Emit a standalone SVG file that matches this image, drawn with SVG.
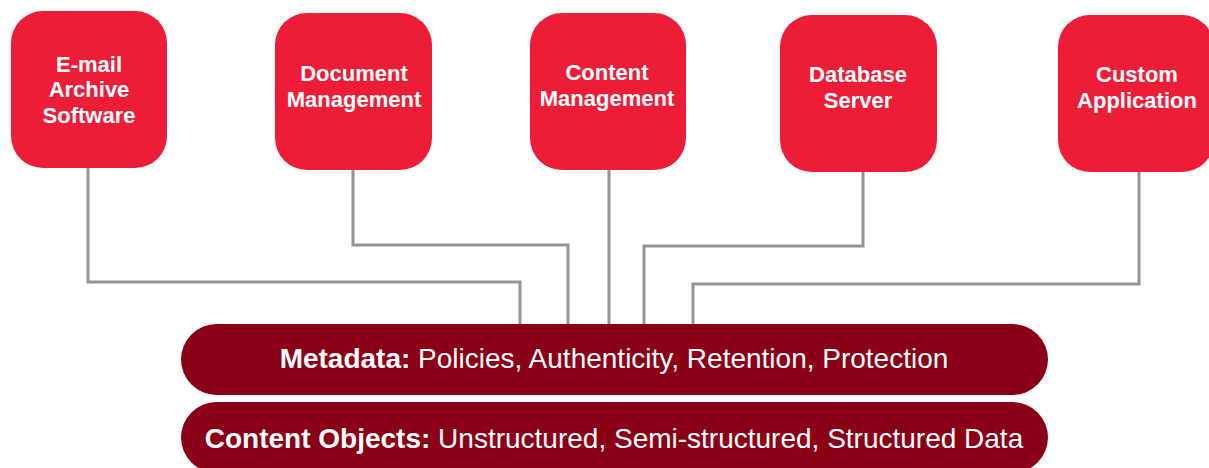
<svg xmlns="http://www.w3.org/2000/svg" width="1209" height="468" viewBox="0 0 1209 468">
<style>
.box{fill:#EE1D37}
.bar{fill:#8A0016}
.bt{font-family:"Liberation Sans",Arial,sans-serif;font-weight:bold;font-size:22px;fill:#fff;text-anchor:middle}
.lt{font-family:"Liberation Sans",Arial,sans-serif;font-size:28px;fill:#fff;text-anchor:middle}
.lt .b{font-weight:bold}
.con{fill:none;stroke:#959595;stroke-width:3}
</style>
<rect width="1209" height="468" fill="#fff"/>
<g id="connectors">
<polyline class="con" points="88,168 88,282 520,282 520,326"/>
<polyline class="con" points="353,170 353,245 568,245 568,326"/>
<polyline class="con" points="609,170 609,326"/>
<polyline class="con" points="863,172 863,246 644,246 644,326"/>
<polyline class="con" points="1139,172 1139,284 693,284 693,326"/>
</g>
<g id="email">
<rect class="box" x="11" y="11" width="156" height="157" rx="32"/>
<text class="bt" x="89" y="72">E-mail</text>
<text class="bt" x="89" y="97">Archive</text>
<text class="bt" x="89" y="123">Software</text>
</g>
<g id="document">
<rect class="box" x="275" y="13" width="157" height="157" rx="32"/>
<text class="bt" x="354" y="81">Document</text>
<text class="bt" x="354" y="107">Management</text>
</g>
<g id="content">
<rect class="box" x="530" y="13" width="156" height="157" rx="32"/>
<text class="bt" x="607" y="80">Content</text>
<text class="bt" x="607" y="106">Management</text>
</g>
<g id="database">
<rect class="box" x="780" y="15" width="157" height="157" rx="32"/>
<text class="bt" x="858" y="82">Database</text>
<text class="bt" x="858" y="108">Server</text>
</g>
<g id="custom">
<rect class="box" x="1058" y="15" width="156" height="157" rx="32"/>
<text class="bt" x="1137" y="82">Custom</text>
<text class="bt" x="1137" y="108">Application</text>
</g>
<g id="metadata">
<rect class="bar" x="181" y="324" width="867" height="71" rx="35.5"/>
<text class="lt" x="614" y="368"><tspan class="b">Metadata:</tspan> Policies, Authenticity, Retention, Protection</text>
</g>
<g id="content-objects">
<rect class="bar" x="181" y="402" width="867" height="71" rx="35.5"/>
<text class="lt" x="614" y="448"><tspan class="b">Content Objects:</tspan> Unstructured, Semi-structured, Structured Data</text>
</g>
</svg>
